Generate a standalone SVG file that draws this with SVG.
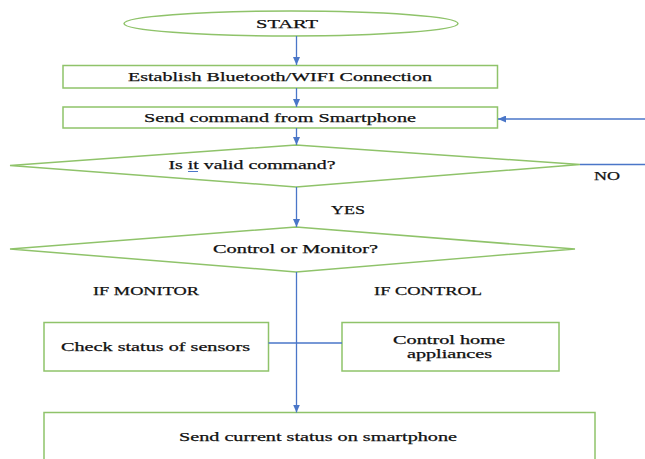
<svg xmlns="http://www.w3.org/2000/svg" width="645" height="459" viewBox="0 0 645 459">
<style>
.shape{fill:#ffffff;stroke:#8fc36a;stroke-width:1.5}
.conn{fill:none;stroke:#4a76c8;stroke-width:1.3}
.t{font-family:"Liberation Serif", "DejaVu Serif", "Times New Roman", Times, serif;font-size:13px;fill:#111111;text-anchor:middle;stroke:#111111;stroke-width:0.25}
.s{font-size:11.5px}
</style>
<defs>
<marker id="ah" markerUnits="userSpaceOnUse" markerWidth="8" markerHeight="7" refX="8" refY="3.5" orient="auto">
<path d="M0,0 L8,3.5 L0,7 z" fill="#4a76c8"/>
</marker>
</defs>
<rect width="645" height="459" fill="#ffffff"/>
<g id="start">
<ellipse class="shape" cx="291" cy="23.5" rx="167" ry="12.5"/>
<text class="t" x="287" y="28" textLength="62" lengthAdjust="spacingAndGlyphs">START</text>
</g>
<g id="establish">
<rect class="shape" x="63" y="65.5" width="434.5" height="22.5"/>
<text class="t" x="280" y="81" textLength="304" lengthAdjust="spacingAndGlyphs">Establish Bluetooth/WIFI Connection</text>
</g>
<g id="sendcmd">
<rect class="shape" x="63" y="107" width="434.5" height="21"/>
<text class="t" x="280" y="122" textLength="272" lengthAdjust="spacingAndGlyphs">Send command from Smartphone</text>
</g>
<g id="valid">
<polygon class="shape" points="10,165.5 296,145 580,164.5 296,187"/>
<text class="t" x="252" y="169" textLength="167" lengthAdjust="spacingAndGlyphs">Is it valid command?</text>
<line x1="188" y1="171.5" x2="198" y2="171.5" stroke="#4a76c8" stroke-width="1"/>
</g>
<g id="ctrlmon">
<polygon class="shape" points="10,249 296,227 575,249 296,272"/>
<text class="t" x="295.5" y="253" textLength="165" lengthAdjust="spacingAndGlyphs">Control or Monitor?</text>
</g>
<g id="checksensors">
<rect class="shape" x="44" y="322.5" width="224.5" height="48.5"/>
<text class="t" x="155.5" y="351" textLength="189" lengthAdjust="spacingAndGlyphs">Check status of sensors</text>
</g>
<g id="controlhome">
<rect class="shape" x="342" y="322.5" width="217" height="48.5"/>
<text class="t s" x="449" y="344" textLength="112" lengthAdjust="spacingAndGlyphs">Control home</text>
<text class="t s" x="449.5" y="357.5" textLength="85" lengthAdjust="spacingAndGlyphs">appliances</text>
</g>
<g id="sendstatus">
<rect class="shape" x="44" y="412.5" width="551" height="60"/>
<text class="t" x="318" y="441" textLength="278" lengthAdjust="spacingAndGlyphs">Send current status on smartphone</text>
</g>
<g id="connectors">
<line class="conn" x1="296.5" y1="36" x2="296.5" y2="65" marker-end="url(#ah)"/>
<line class="conn" x1="296.5" y1="88" x2="296.5" y2="107" marker-end="url(#ah)"/>
<line class="conn" x1="296.5" y1="128" x2="296.5" y2="145" marker-end="url(#ah)"/>
<line class="conn" x1="645" y1="119" x2="498" y2="119" marker-end="url(#ah)"/>
<line class="conn" x1="580" y1="164.5" x2="645" y2="164.5"/>
<line class="conn" x1="296.5" y1="187" x2="296.5" y2="227" marker-end="url(#ah)"/>
<line class="conn" x1="296.5" y1="272" x2="296.5" y2="412.5" marker-end="url(#ah)"/>
<line class="conn" x1="268.5" y1="343" x2="342" y2="343"/>
</g>
<g id="labels">
<text class="t" x="607" y="179.5" textLength="26" lengthAdjust="spacingAndGlyphs">NO</text>
<text class="t" x="348" y="214" textLength="34" lengthAdjust="spacingAndGlyphs">YES</text>
<text class="t" x="146" y="295" textLength="106" lengthAdjust="spacingAndGlyphs">IF MONITOR</text>
<text class="t" x="428" y="295" textLength="108" lengthAdjust="spacingAndGlyphs">IF CONTROL</text>
</g>
</svg>
